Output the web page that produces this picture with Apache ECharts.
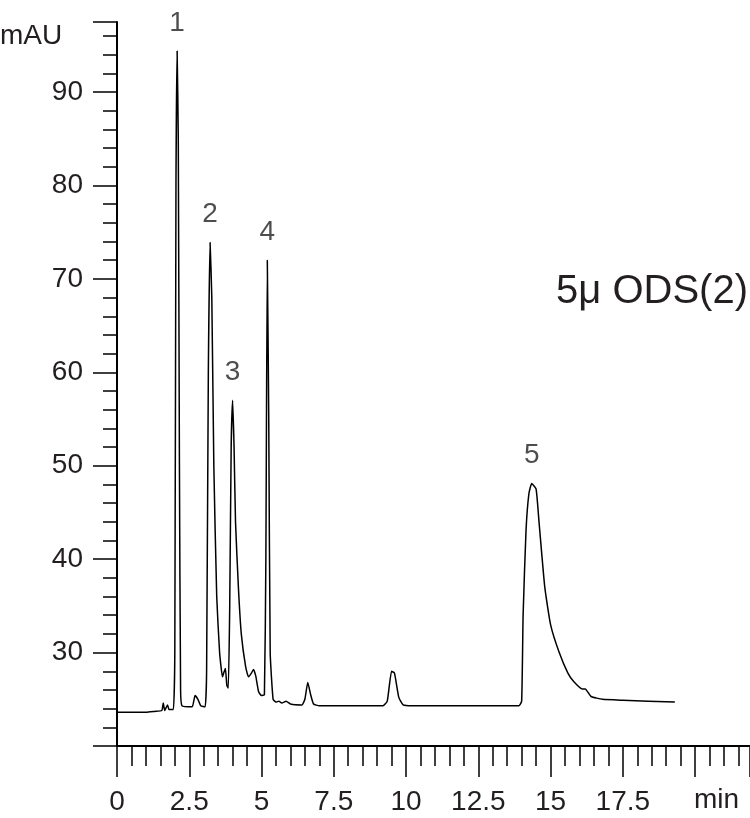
<!DOCTYPE html>
<html><head><meta charset="utf-8">
<script src="https://cdn.jsdelivr.net/npm/echarts@6/dist/echarts.min.js"></script>
<style>html,body{margin:0;padding:0;background:#fff}#c{width:750px;height:818px}</style>
</head><body><div id="c"></div>
<script>
const times = [0,1.0,1.3,1.55,1.6,1.65,1.75,1.8,1.95,2.0,2.04,2.08,2.12,2.16,2.2,2.25,2.6,2.7,2.8,2.9,3.05,3.1,3.16,3.22,3.28,3.35,3.45,3.55,3.65,3.7,3.75,3.8,3.85,3.9,3.95,4.0,4.05,4.1,4.2,4.3,4.45,4.55,4.65,4.72,4.8,4.9,5.0,5.1,5.15,5.2,5.25,5.3,5.4,5.5,5.6,5.7,5.85,6.0,6.4,6.5,6.6,6.7,6.8,7.0,9.2,9.35,9.5,9.6,9.75,9.9,10.2,13.9,14.0,14.05,14.15,14.25,14.35,14.5,14.6,14.8,15.0,15.3,15.6,15.8,16.1,16.2,16.4,16.8,17.5,19.3];
const signal = [23.6,23.6,23.7,23.8,24.6,23.8,24.4,23.9,23.9,30,80,94.4,85,50,26,24.3,24.2,25.4,25,24.3,24.2,28,60,73.9,68,50,36,30,27.4,27.9,28.3,26.5,26.2,35,52,57,52,44,37,32,28.5,27.4,27.8,28.2,27.5,25.8,25.4,25.5,40,72,55,30,25.0,24.7,24.8,24.6,24.8,24.5,24.4,25,26.8,25.5,24.5,24.3,24.3,24.8,28.0,27.8,25.2,24.4,24.3,24.3,24.8,34,43,47,48.1,47.5,44,37,33,30,27.8,26.9,26.1,26.1,25.3,25.0,24.9,24.7];
const peakNames = ['1','2','3','4','5'];
const peakTimes = [2.08,3.22,4.0,5.2,14.35];
const peakHeights = [94.4,73.9,57,72,48.1];
const xTicks = [0,2.5,5,7.5,10,12.5,15,17.5];
const yTicks = [30,40,50,60,70,80,90];

const chart = echarts.init(document.getElementById('c'));
const font = 'Liberation Sans, Arial, sans-serif';
const fc = '#231f20';
chart.setOption({
  animation:false,
  grid:{left:117,right:0,top:22,bottom:72},
  xAxis:{type:'value',min:0,max:21.9,interval:2.5,
    axisLine:{lineStyle:{color:'#000',width:2}},
    axisTick:{inside:false,length:31,lineStyle:{color:'#000',width:1.5}},
    minorTick:{show:true,splitNumber:5,length:20,lineStyle:{color:'#000',width:1.5}},
    splitLine:{show:false},
    axisLabel:{margin:42,fontSize:28,color:fc,fontFamily:font,
      formatter:v=>xTicks.includes(v)?String(v):'',showMaxLabel:false}},
  yAxis:{type:'value',min:20,max:97.5,interval:10,
    axisLine:{show:true,lineStyle:{color:'#000',width:2}},
    axisTick:{show:true,length:24,lineStyle:{color:'#000',width:1.5}},
    minorTick:{show:true,splitNumber:5,length:14,lineStyle:{color:'#000',width:1.5}},
    splitLine:{show:false},
    axisLabel:{margin:34,fontSize:28,color:fc,fontFamily:font,
      formatter:v=>yTicks.includes(v)?String(v):'',showMaxLabel:false}},
  series:[
    {type:'line',data:times.map((t,i)=>[t,signal[i]]),showSymbol:false,
      lineStyle:{color:'#000',width:1.5},smooth:0.15},
    {type:'scatter',data:peakTimes.map((t,i)=>[t,peakHeights[i],peakNames[i]]),
      symbolSize:0,label:{show:true,position:'top',distance:14,fontSize:28,
      color:fc,fontFamily:font,formatter:p=>p.data[2]}}
  ],
  graphic:[
    {type:'text',left:0,top:22,style:{text:'mAU',fontSize:28,fill:fc,fontFamily:font}},
    {type:'text',left:694,top:786,style:{text:'min',fontSize:28,fill:fc,fontFamily:font}},
    {type:'text',right:2,top:272,style:{text:'5μ ODS(2)',fontSize:40,fill:fc,fontFamily:font}}
  ]
});
</script></body></html>
